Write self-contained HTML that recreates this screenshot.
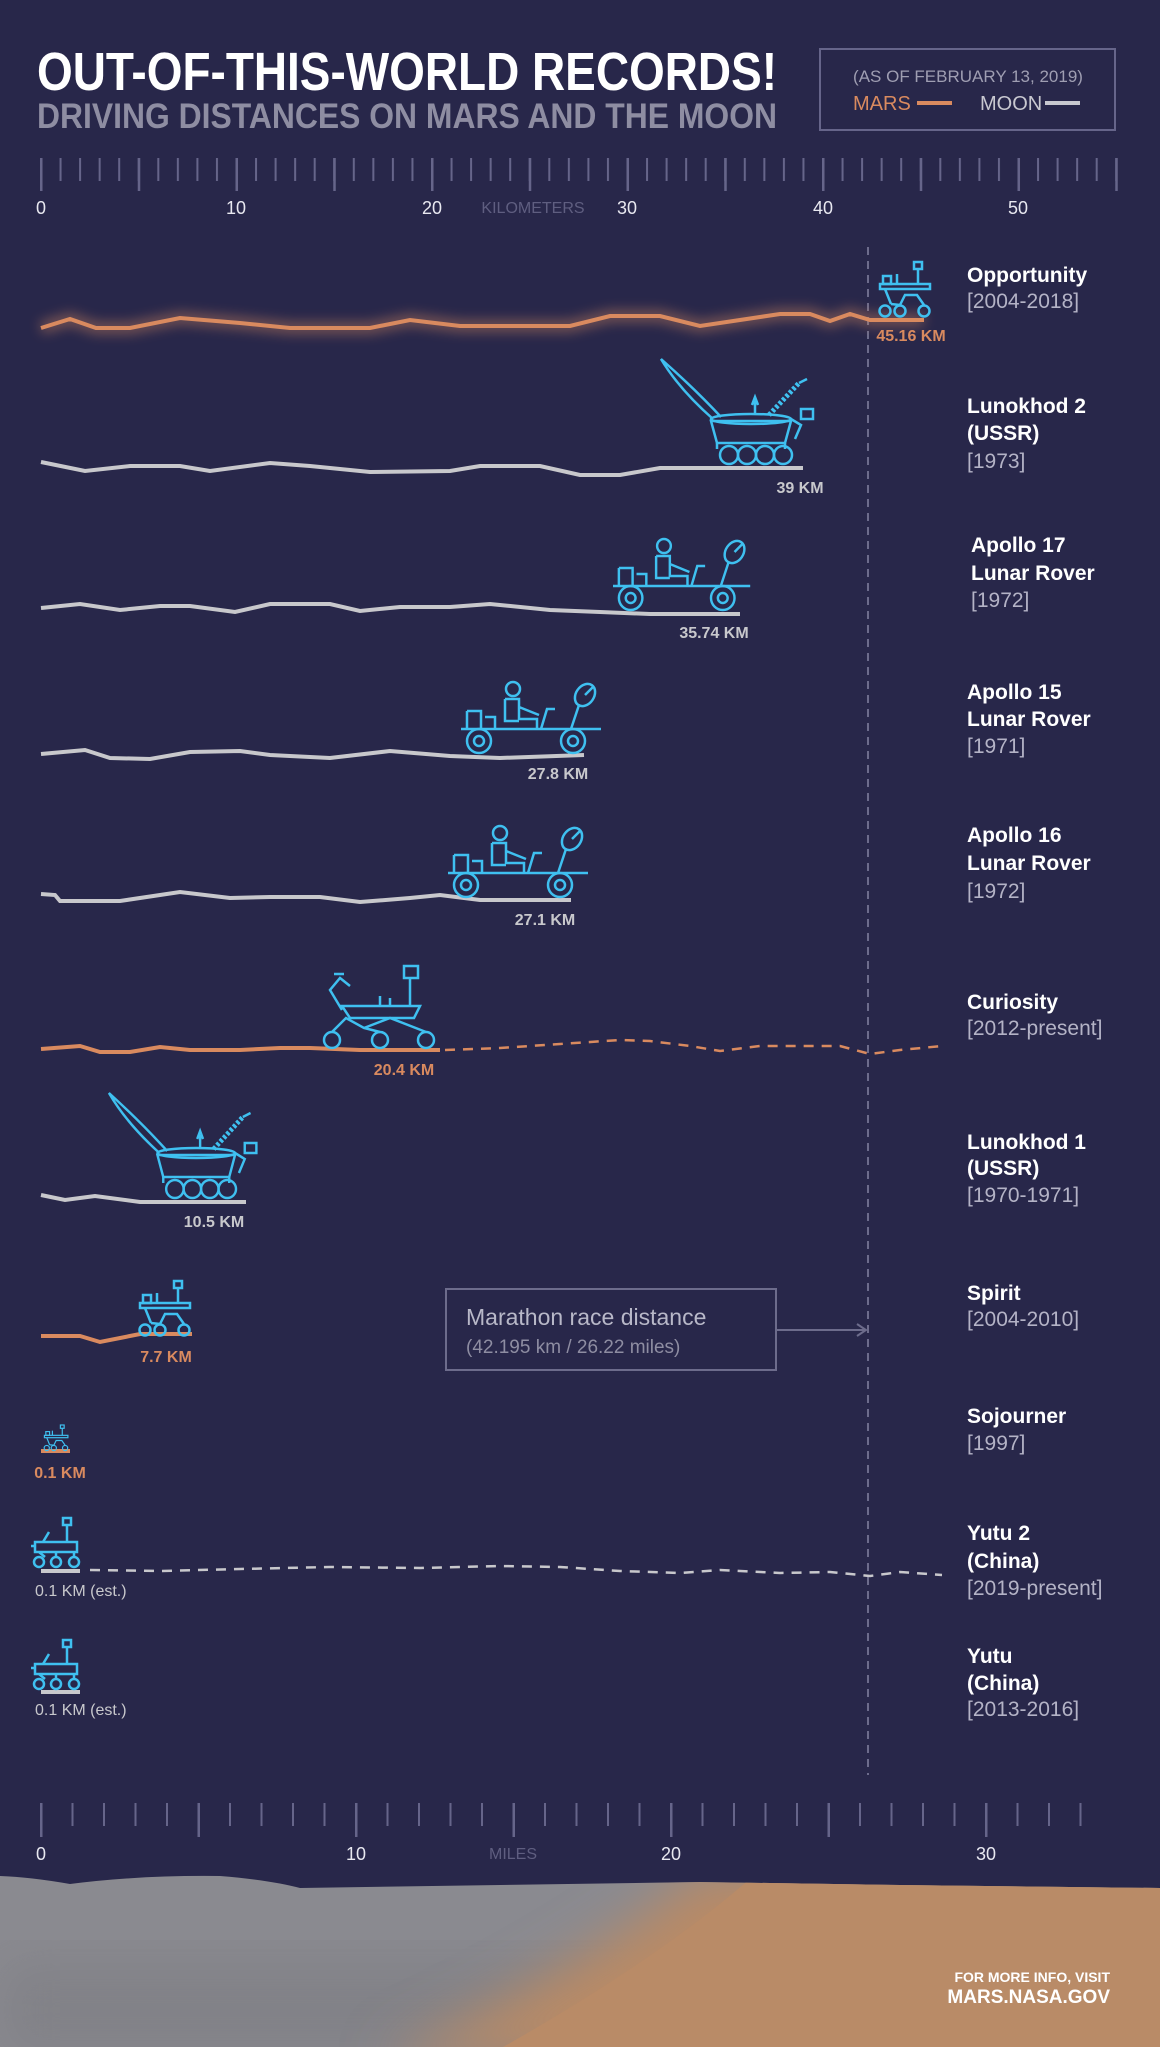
<!DOCTYPE html>
<html><head><meta charset="utf-8"><style>
html,body{margin:0;padding:0;background:#28274a;}
svg{display:block;font-family:"Liberation Sans Narrow","Liberation Sans",sans-serif;}
</style></head><body>
<svg width="1160" height="2047" viewBox="0 0 1160 2047" xmlns="http://www.w3.org/2000/svg">
<defs>
<pattern id="kmMinor" x="40" y="0" width="19.55" height="40" patternUnits="userSpaceOnUse"><rect x="0" y="0" width="2" height="40" fill="#66658a"/></pattern>
<pattern id="kmMajor" x="40" y="0" width="97.75" height="40" patternUnits="userSpaceOnUse"><rect x="0" y="0" width="2.5" height="40" fill="#66658a"/></pattern>
<pattern id="miMinor" x="40" y="0" width="31.5" height="40" patternUnits="userSpaceOnUse"><rect x="0" y="0" width="2" height="40" fill="#66658a"/></pattern>
<pattern id="miMajor" x="40" y="0" width="157.5" height="40" patternUnits="userSpaceOnUse"><rect x="0" y="0" width="2.5" height="40" fill="#66658a"/></pattern>
<filter id="glow" x="-10%" y="-200%" width="120%" height="500%"><feGaussianBlur stdDeviation="6"/></filter>
<filter id="soft" x="-20%" y="-20%" width="140%" height="140%"><feGaussianBlur stdDeviation="25"/></filter>
<clipPath id="gclip"><path d="M0 1876 Q30 1877 70 1884 Q140 1875 220 1876 Q270 1880 300 1888 L700 1882 L900 1885 L1160 1888 V2047 H0 Z"/></clipPath>
<g id="mer" fill="none" stroke="#3fc0f0" stroke-width="2.5">
<circle cx="8" cy="49" r="5.5"/><circle cx="23" cy="49" r="5.5"/><circle cx="47" cy="49" r="5.5"/>
<rect x="3" y="22" width="50" height="5"/><path d="M8 27 L14 42 M23 43 L28 33 L40 33 L47 43 M14 42 L23 43"/>
<path d="M41 22 V6"/><rect x="37" y="0" width="8" height="7"/><rect x="6" y="14" width="8" height="8"/><path d="M20 22 V12"/>
</g>
<g id="lrv" fill="none" stroke="#3fc0f0" stroke-width="2.5">
<circle cx="18" cy="62" r="12"/><circle cx="18" cy="62" r="5"/><circle cx="112" cy="62" r="12"/><circle cx="112" cy="62" r="5"/>
<path d="M0 50 H140 M6 32 H20 V50 M6 32 V50 M24 38 H34 V50"/>
<circle cx="52" cy="10" r="7"/><path d="M44 20 H58 V40 H76 V50 M44 20 V42 H58 M58 28 L78 36 M80 50 L86 30 H94"/>
<ellipse cx="124" cy="16" rx="9" ry="12" transform="rotate(35 124 16)"/><path d="M118 26 L110 50 M124 16 L132 8"/>
</g>
<g id="luno" fill="none" stroke="#3fc0f0" stroke-width="2.5">
<path d="M54 60 Q20 30 2 0 Q36 30 62 58"/><path d="M52 62 H132 L126 84 H58 Z"/><ellipse cx="92" cy="60" rx="40" ry="5"/>
<circle cx="70" cy="96" r="9"/><circle cx="88" cy="96" r="9"/><circle cx="106" cy="96" r="9"/><circle cx="124" cy="96" r="9"/>
<path d="M58 84 V90 M126 84 V90 M132 60 L142 66 L136 80"/>
<path d="M110 56 L140 24" stroke-dasharray="3 2" stroke-width="5"/><path d="M140 24 L148 20"/>
<rect x="142" y="50" width="12" height="10"/><path d="M96 56 V42 M93 46 L96 38 L99 46"/>
</g>
<g id="curio" fill="none" stroke="#3fc0f0" stroke-width="2.5">
<circle cx="12" cy="74" r="8"/><circle cx="60" cy="74" r="8"/><circle cx="106" cy="74" r="8"/>
<path d="M12 66 L26 52 L44 62 L60 66 M44 62 L70 52 L106 66"/>
<path d="M22 40 H100 L94 52 H30 Z"/><path d="M90 40 V12"/><rect x="84" y="0" width="14" height="12"/>
<path d="M22 44 L10 24 L20 12 L30 20 M14 8 H24"/><path d="M60 40 V30 M70 40 V32"/>
</g>
<g id="yutu" fill="none" stroke="#3fc0f0" stroke-width="2.5">
<circle cx="8" cy="44" r="5"/><circle cx="25" cy="44" r="5"/><circle cx="43" cy="44" r="5"/>
<rect x="4" y="24" width="42" height="10"/><path d="M8 34 L14 39 M25 34 V39 M43 34 V39 M0 28 H4"/>
<path d="M36 24 V6"/><rect x="32" y="0" width="8" height="7"/><path d="M12 24 L18 14"/>
</g>
</defs>

<rect width="1160" height="2047" fill="#28274a"/>

<!-- header -->
<text x="37" y="90" font-size="54" font-weight="bold" fill="#ffffff" textLength="740" lengthAdjust="spacingAndGlyphs">OUT-OF-THIS-WORLD RECORDS!</text>
<text x="37" y="128" font-size="35" font-weight="bold" fill="#8e8da2" textLength="740" lengthAdjust="spacingAndGlyphs">DRIVING DISTANCES ON MARS AND THE MOON</text>
<rect x="820" y="49" width="295" height="81" fill="none" stroke="#66658a" stroke-width="2"/>
<text x="968" y="82" font-size="17" fill="#9f9eb2" text-anchor="middle">(AS OF FEBRUARY 13, 2019)</text>
<text x="853" y="110" font-size="20" fill="#d98a5f">MARS</text>
<rect x="917" y="101" width="35" height="4" fill="#d98a5f"/>
<text x="980" y="110" font-size="20" fill="#c8c8d0">MOON</text>
<rect x="1045" y="101" width="35" height="4" fill="#c8c8d0"/>

<!-- km axis -->
<rect x="40" y="158" width="1078" height="23" fill="url(#kmMinor)"/>
<rect x="40" y="158" width="1078" height="33" fill="url(#kmMajor)"/>
<g font-size="18" fill="#e8e8f0" text-anchor="middle">
<text x="41" y="214">0</text><text x="236" y="214">10</text><text x="432" y="214">20</text><text x="627" y="214">30</text><text x="823" y="214">40</text><text x="1018" y="214">50</text>
</g>
<text x="533" y="213" font-size="16" fill="#5f5e80" text-anchor="middle">KILOMETERS</text>

<!-- marathon line -->
<line x1="868" y1="247" x2="868" y2="1775" stroke="#6d6c8c" stroke-width="2" stroke-dasharray="8 6"/>

<!-- series lines -->
<polyline points="41,328 70,319 96,328 130,328 180,318 240,323 290,328 370,328 410,320 460,326 570,326 610,316 660,316 700,326 740,320 780,314 810,314 830,321 850,314 870,320 924,320" fill="none" stroke="#d98a5f" stroke-width="12" opacity="0.45" filter="url(#glow)"/>
<polyline points="41,328 70,319 96,328 130,328 180,318 240,323 290,328 370,328 410,320 460,326 570,326 610,316 660,316 700,326 740,320 780,314 810,314 830,321 850,314 870,320 924,320" fill="none" stroke="#d98a5f" stroke-width="4"/>

<g fill="none" stroke="#c8c8cc" stroke-width="4">
<polyline points="41,462 85,471 130,466 180,466 210,471 270,463 310,466 370,472 450,471 480,466 540,466 580,475 620,475 660,468 803,468"/>
<polyline points="41,608 80,604 120,610 160,606 190,606 235,612 270,604 330,604 360,611 400,607 450,607 490,604 550,610 600,612 650,614 740,614"/>
<polyline points="41,754 85,750 110,758 150,759 190,752 240,751 270,755 330,758 390,751 450,756 500,758 584,755"/>
<polyline points="41,894 55,895 60,901 120,901 180,892 230,898 270,897 320,897 360,902 410,898 440,895 480,900 571,900"/>
<polyline points="41,1195 65,1200 95,1196 140,1202 246,1202"/>
<polyline points="41,1571 80,1571"/>
<polyline points="41,1692 80,1692"/>
</g>
<g fill="none" stroke="#d98a5f" stroke-width="4">
<polyline points="41,1049 80,1046 100,1052 130,1052 160,1047 190,1050 240,1050 280,1048 310,1048 360,1050 440,1050"/>
<polyline points="41,1336 80,1336 100,1342 140,1334 192,1334"/>
<polyline points="41,1451 70,1451"/>
</g>
<polyline points="445,1050 500,1048 560,1044 620,1040 650,1041 690,1046 720,1051 760,1046 800,1046 840,1046 870,1054 900,1050 942,1046" fill="none" stroke="#d98a5f" stroke-width="2.5" stroke-dasharray="10 8"/>
<polyline points="90,1570 160,1571 240,1569 330,1567 420,1568 500,1566 560,1567 620,1571 680,1573 720,1570 780,1573 830,1572 870,1576 900,1572 942,1575" fill="none" stroke="#c8c8cc" stroke-width="2.5" stroke-dasharray="10 8"/>

<!-- rovers -->
<use href="#mer" transform="translate(877,262)"/>
<use href="#luno" transform="translate(659,359)"/>
<use href="#lrv" transform="translate(613,536) scale(0.98,1)"/>
<use href="#lrv" transform="translate(461,679)"/>
<use href="#lrv" transform="translate(448,823)"/>
<use href="#curio" transform="translate(320,966)"/>
<use href="#luno" transform="translate(107,1093) scale(0.97,1)"/>
<use href="#mer" transform="translate(137,1281)"/>
<use href="#mer" transform="translate(43,1425) scale(0.47)"/>
<use href="#yutu" transform="translate(31,1518)"/>
<use href="#yutu" transform="translate(31,1640)"/>

<!-- distance labels -->
<g font-size="16" font-weight="bold" text-anchor="middle">
<text x="911" y="341" fill="#d98a5f">45.16 KM</text>
<text x="800" y="493" fill="#c8c8cc">39 KM</text>
<text x="714" y="638" fill="#c8c8cc">35.74 KM</text>
<text x="558" y="779" fill="#c8c8cc">27.8 KM</text>
<text x="545" y="925" fill="#c8c8cc">27.1 KM</text>
<text x="404" y="1075" fill="#d98a5f">20.4 KM</text>
<text x="214" y="1227" fill="#c8c8cc">10.5 KM</text>
<text x="166" y="1362" fill="#d98a5f">7.7 KM</text>
<text x="60" y="1478" fill="#d98a5f">0.1 KM</text>
</g>
<g font-size="16" fill="#c8c8cc">
<text x="35" y="1596">0.1 KM (est.)</text>
<text x="35" y="1715">0.1 KM (est.)</text>
</g>

<!-- marathon box -->
<rect x="446" y="1289" width="330" height="81" fill="none" stroke="#6d6c8c" stroke-width="2"/>
<text x="466" y="1325" font-size="23" fill="#b8b8c8">Marathon race distance</text>
<text x="466" y="1353" font-size="19" fill="#8e8da2">(42.195 km / 26.22 miles)</text>
<line x1="776" y1="1330" x2="866" y2="1330" stroke="#6d6c8c" stroke-width="2"/>
<path d="M857 1324 L866 1330 L857 1336" fill="none" stroke="#6d6c8c" stroke-width="2"/>

<!-- right labels -->
<g font-size="21" fill="#ffffff" font-weight="bold">
<text x="967" y="282">Opportunity</text>
<text x="967" y="413">Lunokhod 2</text><text x="967" y="440">(USSR)</text>
<text x="971" y="552">Apollo 17</text><text x="971" y="580">Lunar Rover</text>
<text x="967" y="699">Apollo 15</text><text x="967" y="726">Lunar Rover</text>
<text x="967" y="842">Apollo 16</text><text x="967" y="870">Lunar Rover</text>
<text x="967" y="1009">Curiosity</text>
<text x="967" y="1149">Lunokhod 1</text><text x="967" y="1175">(USSR)</text>
<text x="967" y="1300">Spirit</text>
<text x="967" y="1423">Sojourner</text>
<text x="967" y="1540">Yutu 2</text><text x="967" y="1568">(China)</text>
<text x="967" y="1663">Yutu</text><text x="967" y="1690">(China)</text>
</g>
<g font-size="21" fill="#b4b3c6">
<text x="967" y="308">[2004-2018]</text>
<text x="967" y="468">[1973]</text>
<text x="971" y="607">[1972]</text>
<text x="967" y="753">[1971]</text>
<text x="967" y="898">[1972]</text>
<text x="967" y="1035">[2012-present]</text>
<text x="967" y="1202">[1970-1971]</text>
<text x="967" y="1326">[2004-2010]</text>
<text x="967" y="1450">[1997]</text>
<text x="967" y="1595">[2019-present]</text>
<text x="967" y="1716">[2013-2016]</text>
</g>

<!-- miles axis -->
<rect x="40" y="1803" width="1043" height="23" fill="url(#miMinor)"/>
<rect x="40" y="1803" width="1043" height="34" fill="url(#miMajor)"/>
<g font-size="18" fill="#e8e8f0" text-anchor="middle">
<text x="41" y="1860">0</text><text x="356" y="1860">10</text><text x="671" y="1860">20</text><text x="986" y="1860">30</text>
</g>
<text x="513" y="1859" font-size="16" fill="#5f5e80" text-anchor="middle">MILES</text>

<!-- ground -->
<g clip-path="url(#gclip)">
<rect x="0" y="1860" width="1160" height="200" fill="#8a8a90"/>
<rect x="0" y="1960" width="700" height="100" fill="#7a7a80" opacity="0.5" filter="url(#soft)"/>
<path d="M700 1870 L1200 1870 L1200 2060 L380 2060 Q600 1960 700 1870 Z" fill="#b88a66" filter="url(#soft)"/>
<path d="M760 1870 L1200 1870 L1200 2060 L480 2060 Q660 1960 760 1870 Z" fill="#b98b67"/>
</g>
<g fill="#ffffff" font-weight="bold">
<text x="1110" y="1982" font-size="14" text-anchor="end">FOR MORE INFO, VISIT</text>
<text x="1110" y="2003" font-size="19" text-anchor="end">MARS.NASA.GOV</text>
</g>
</svg>
</body></html>
